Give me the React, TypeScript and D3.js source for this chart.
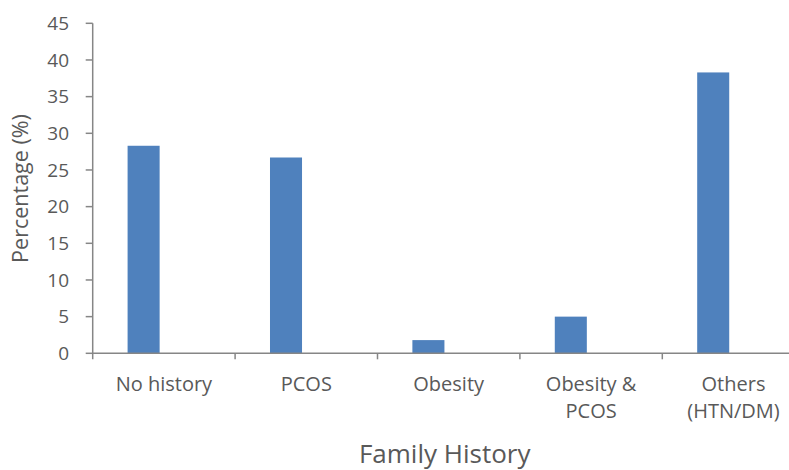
import { scaleBand, scaleLinear } from "d3";

const categories = ["No history", "PCOS", "Obesity", "Obesity & PCOS", "Others (HTN/DM)"];
const labelLines = [["No history"], ["PCOS"], ["Obesity"], ["Obesity &", "PCOS"], ["Others", "(HTN/DM)"]];
const values = [28.3, 26.7, 1.8, 5.0, 38.3];
const yTicks = [0, 5, 10, 15, 20, 25, 30, 35, 40, 45];

const W = 789;
const H = 470;
const left = 92.7;
const top = 23.3;
const bottom = 353.3;
const bandW = 142.4;

const textColor = "#595959";
const axisColor = "#868686";
const barColor = "#4F81BD";
const font = "'Open Sans', sans-serif";

export default function App() {
  const x = scaleBand<string>()
    .domain(categories)
    .range([left, left + bandW * categories.length]);
  const y = scaleLinear().domain([0, 45]).range([bottom, top]);

  // bars sit left of the band centre, like an Excel cluster
  const barOffset = x.bandwidth() * 0.245;
  const barWidth = x.bandwidth() * 0.225;

  return (
    <svg width={W} height={H} style={{ position: "absolute", left: 0, top: 0, background: "#fff" }}>
      {/* bars */}
      {categories.map((c, i) => (
        <rect
          key={c}
          x={(x(c) ?? 0) + barOffset}
          y={y(values[i])}
          width={barWidth}
          height={y(0) - y(values[i])}
          fill={barColor}
        />
      ))}

      {/* y axis */}
      <line x1={left} x2={left} y1={top} y2={bottom + 6} stroke={axisColor} strokeWidth={1.5} />
      {yTicks.map((t) => (
        <g key={t}>
          <line x1={left - 7} x2={left} y1={y(t)} y2={y(t)} stroke={axisColor} strokeWidth={1.5} />
          <text
            x={69}
            y={y(t)}
            dy="0.36em"
            textAnchor="end"
            fontFamily={font}
            fontSize={19}
            fill={textColor}
          >
            {t}
          </text>
        </g>
      ))}

      {/* x axis */}
      <line x1={left} x2={W} y1={bottom} y2={bottom} stroke={axisColor} strokeWidth={1.5} />
      {categories.map((c) =>
        (x(c) ?? 0) > left ? (
          <line key={c} x1={x(c)} x2={x(c)} y1={bottom} y2={bottom + 6} stroke={axisColor} strokeWidth={1.5} />
        ) : null
      )}
      {categories.map((c, i) => (
        <text
          key={c}
          x={(x(c) ?? 0) + x.bandwidth() / 2}
          y={391}
          textAnchor="middle"
          fontFamily={font}
          fontSize={20}
          fill={textColor}
        >
          {labelLines[i].map((l, j) => (
            <tspan key={j} x={(x(c) ?? 0) + x.bandwidth() / 2} dy={j === 0 ? 0 : 27}>
              {l}
            </tspan>
          ))}
        </text>
      ))}

      {/* axis titles */}
      <text
        x={left + (bandW * 5) / 2 - 4}
        y={463}
        textAnchor="middle"
        fontFamily={font}
        fontSize={26}
        fill={textColor}
      >
        Family History
      </text>
      <text
        transform={`translate(28, 188.5) rotate(-90)`}
        textAnchor="middle"
        fontFamily={font}
        fontSize={21.5}
        fill={textColor}
      >
        Percentage (%)
      </text>
    </svg>
  );
}
